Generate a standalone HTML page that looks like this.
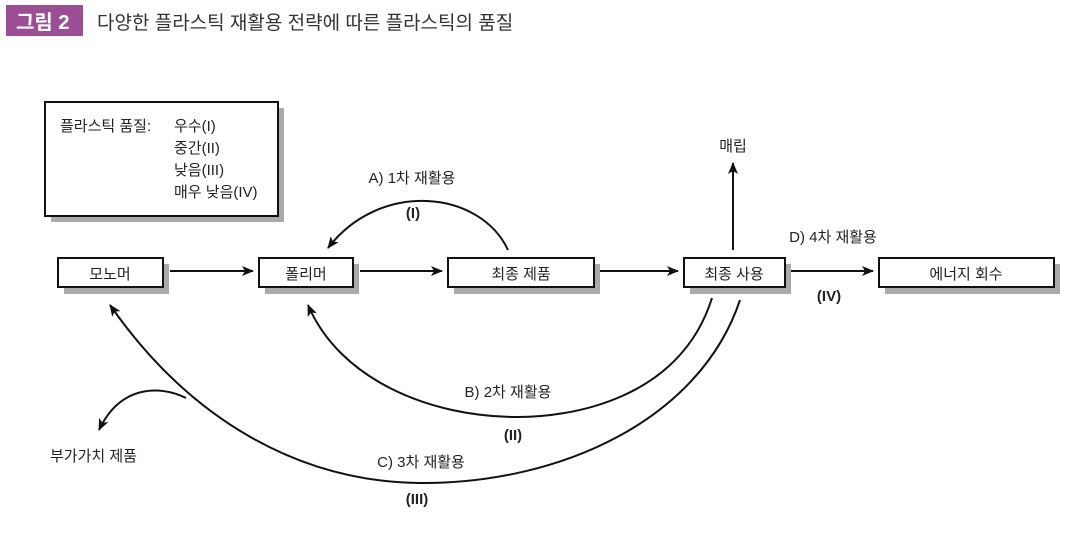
<!DOCTYPE html>
<html><head><meta charset="utf-8"><style>
body{margin:0;background:#fff;width:1076px;height:533px;overflow:hidden;font-family:"Liberation Sans","Noto Sans CJK KR",sans-serif}
</style></head><body>
<svg width="1076" height="533" xmlns="http://www.w3.org/2000/svg" style="font-family:'Liberation Sans','Noto Sans CJK KR',sans-serif">
<defs><marker id="a" markerWidth="12" markerHeight="10" refX="11" refY="5" orient="auto" markerUnits="userSpaceOnUse"><path d="M0,0 L12,5 L0,10 L3,5 z" fill="#111"/></marker></defs>
<rect x="6" y="5" width="77" height="31" fill="#9c4e95"/>
<text x="16" y="29" font-size="20" font-weight="bold" fill="#fff">그림 2</text>
<text x="97" y="29" font-size="19" fill="#333">다양한 플라스틱 재활용 전략에 따른 플라스틱의 품질</text>
<g fill="#aaa">
<rect x="51" y="108" width="233" height="114"/>
<rect x="64" y="264" width="105" height="30"/>
<rect x="265" y="264" width="94" height="30"/>
<rect x="454" y="264" width="146" height="30"/>
<rect x="690" y="264" width="101" height="30"/>
<rect x="885" y="264" width="175" height="30"/>
</g>
<g fill="#fff" stroke="#111" stroke-width="2">
<rect x="45" y="102" width="233" height="114"/>
<rect x="58" y="258" width="105" height="29"/>
<rect x="259" y="258" width="94" height="29"/>
<rect x="448" y="258" width="146" height="29"/>
<rect x="684" y="258" width="101" height="29"/>
<rect x="879" y="258" width="175" height="29"/>
</g>
<g font-size="15" fill="#222">
<text x="60" y="131">플라스틱 품질:</text>
<text x="174" y="131">우수(I)</text>
<text x="174" y="153">중간(II)</text>
<text x="174" y="175">낮음(III)</text>
<text x="174" y="197">매우 낮음(IV)</text>
<text x="110" y="279" text-anchor="middle">모노머</text>
<text x="306" y="279" text-anchor="middle">폴리머</text>
<text x="521" y="279" text-anchor="middle">최종 제품</text>
<text x="734" y="279" text-anchor="middle">최종 사용</text>
<text x="966" y="279" text-anchor="middle">에너지 회수</text>
<text x="412" y="183" text-anchor="middle">A) 1차 재활용</text>
<text x="733" y="151" text-anchor="middle">매립</text>
<text x="833" y="242" text-anchor="middle">D) 4차 재활용</text>
<text x="508" y="397" text-anchor="middle">B) 2차 재활용</text>
<text x="421" y="467" text-anchor="middle">C) 3차 재활용</text>
<text x="50" y="461">부가가치 제품</text>
</g>
<g font-size="15" font-weight="bold" fill="#222" text-anchor="middle">
<text x="413" y="218">(I)</text>
<text x="829" y="301">(IV)</text>
<text x="513" y="440">(II)</text>
<text x="417" y="504">(III)</text>
</g>
<g stroke="#111" stroke-width="2" fill="none" marker-end="url(#a)">
<line x1="170" y1="271" x2="253" y2="271"/>
<line x1="360" y1="271" x2="442" y2="271"/>
<line x1="600" y1="271" x2="678" y2="271"/>
<line x1="791" y1="271" x2="873" y2="271"/>
<line x1="733" y1="250" x2="733" y2="163"/>
<path d="M508,250 C480,190 380,180 328,248"/>
<path d="M712,298 C680,400 570,418 513,417 C430,416 340,380 308,305"/>
<path d="M740,300 C700,420 560,484 420,483 C300,482 190,420 110,305"/>
<path d="M186,398 C160,385 120,385 99,430"/>
</g>
</svg>
</body></html>
